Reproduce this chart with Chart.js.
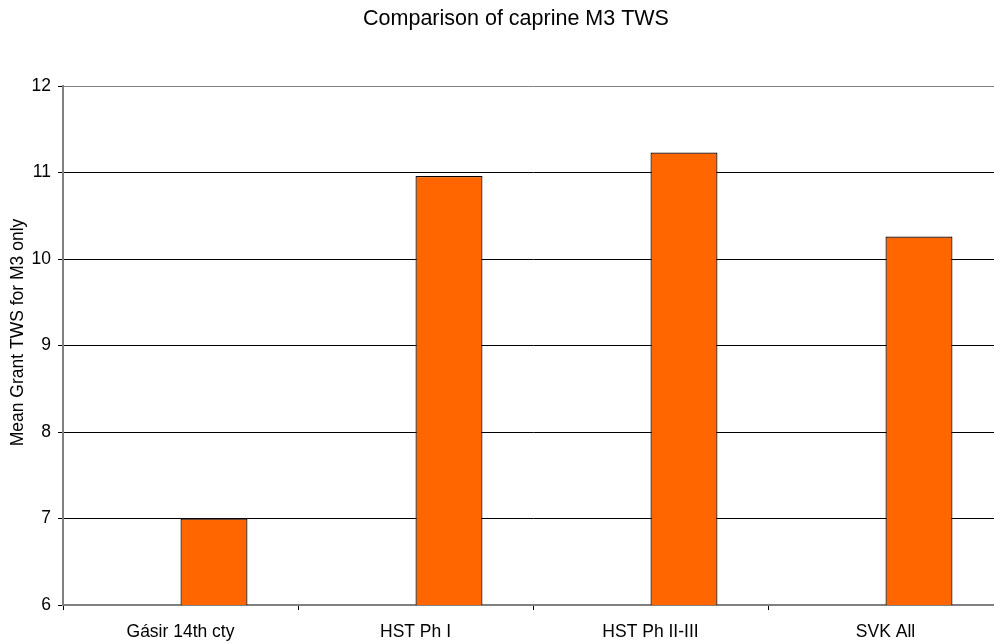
<!DOCTYPE html>
<html>
<head>
<meta charset="utf-8">
<title>Comparison of caprine M3 TWS</title>
<script src="https://cdn.jsdelivr.net/npm/chart.js@4.4.1/dist/chart.umd.min.js"></script>
<style>
  html, body { margin: 0; padding: 0; background: #ffffff; overflow: hidden; }
  #wrap { position: absolute; left: 0; top: 0; width: 1032px; height: 644px; }
</style>
</head>
<body>
<div id="wrap"><canvas id="chart" width="1032" height="644"></canvas></div>
<script>
// Site / phase groups on the category axis
const categories = ['Gásir 14th cty', 'HST Ph I', 'HST Ph II-III', 'SVK All'];
// Mean Grant tooth wear stage (M3 only) per group
const meanTWS = [7.0, 10.96, 11.23, 10.26];
// Empty companion series that keeps the bar slot on the left of each group
const emptySeries = [null, null, null, null];
// Value axis range and step
const yMin = 6;
const yMax = 12;
const yStep = 1;
const yAxisTitle = 'Mean Grant TWS for M3 only';

const font = { family: 'Arial, "Liberation Sans", sans-serif', size: 17.5 };

// Rotated value-axis caption, drawn beside the tick labels
const axisCaption = {
  id: 'axisCaption',
  afterDraw(chart) {
    const { ctx, chartArea } = chart;
    ctx.save();
    ctx.fillStyle = '#000000';
    ctx.font = `${font.size}px ${font.family}`;
    ctx.textAlign = 'center';
    ctx.textBaseline = 'alphabetic';
    ctx.translate(23, (chartArea.top + chartArea.bottom) / 2 - 13);
    ctx.rotate(-Math.PI / 2);
    ctx.fillText(yAxisTitle, 0, 0);
    ctx.restore();
  }
};

new Chart(document.getElementById('chart'), {
  type: 'bar',
  data: {
    labels: categories,
    datasets: [
      { data: emptySeries, backgroundColor: '#FF6600' },
      {
        data: meanTWS,
        backgroundColor: '#FF6600',
        borderColor: '#000000',
        borderWidth: 1.2,
        borderSkipped: false
      }
    ]
  },
  options: {
    responsive: false,
    animation: false,
    devicePixelRatio: 1,
    categoryPercentage: 0.57,
    barPercentage: 1.0,
    layout: { padding: 0 },
    plugins: {
      legend: { display: false },
      tooltip: { enabled: false },
      title: {
        display: true,
        text: 'Comparison of caprine M3 TWS',
        color: '#000000',
        font: { family: font.family, size: 21.5, weight: 'normal' },
        padding: { top: 6.5, bottom: 53.7 }
      }
    },
    scales: {
      x: {
        offset: true,
        grid: {
          offset: true,
          drawOnChartArea: false,
          drawTicks: true,
          tickLength: 5,
          tickColor: '#000000'
        },
        border: { color: '#808080', width: 2 },
        ticks: { color: '#000000', font: font, padding: 12, maxRotation: 0, autoSkip: false },
        afterFit: (scale) => { scale.height = 39; }
      },
      y: {
        min: yMin,
        max: yMax,
        ticks: { stepSize: yStep, color: '#000000', font: font, padding: 7 },
        grid: {
          color: (ctx) => (ctx.tick && ctx.tick.value === yMax ? '#808080' : '#000000'),
          lineWidth: 1,
          tickLength: 5,
          tickColor: '#000000'
        },
        border: { color: '#808080', width: 2 },
        afterFit: (scale) => { scale.width = 63; }
      },
      // blank right-hand strip of the plot frame
      yRight: {
        type: 'linear',
        position: 'right',
        display: true,
        ticks: { display: false },
        grid: { display: false, drawTicks: false },
        border: { display: false },
        afterFit: (scale) => { scale.width = 29; }
      }
    }
  },
  plugins: [axisCaption]
});
</script>
</body>
</html>
